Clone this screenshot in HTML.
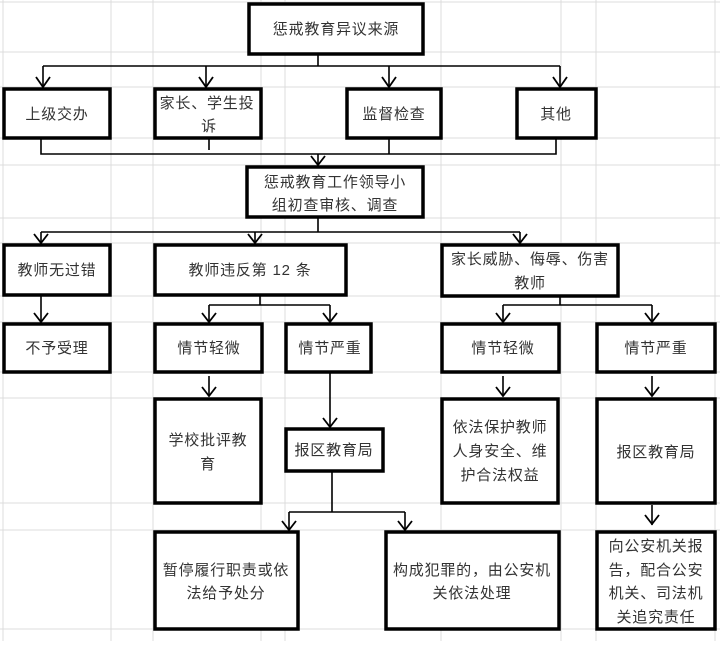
<!DOCTYPE html>
<html><head><meta charset="utf-8"><style>
body{margin:0;background:#fff}
svg text{font-family:"Liberation Sans","Noto Sans CJK SC",sans-serif;font-size:15px;fill:#333;text-anchor:middle;letter-spacing:0.8px}
</style></head><body>
<svg width="720" height="641" viewBox="0 0 720 641" xmlns="http://www.w3.org/2000/svg">
<g stroke="#dcdcdc" stroke-width="1">
<line x1="3" y1="0" x2="3" y2="641"/><line x1="111" y1="0" x2="111" y2="641"/><line x1="153" y1="0" x2="153" y2="641"/><line x1="261" y1="0" x2="261" y2="641"/><line x1="285" y1="0" x2="285" y2="641"/><line x1="441" y1="0" x2="441" y2="641"/><line x1="561" y1="0" x2="561" y2="641"/><line x1="596" y1="0" x2="596" y2="641"/><line x1="715" y1="0" x2="715" y2="641"/>
<line x1="0" y1="2" x2="720" y2="2"/><line x1="0" y1="52" x2="720" y2="52"/><line x1="0" y1="87" x2="720" y2="87"/><line x1="0" y1="138" x2="720" y2="138"/><line x1="0" y1="165" x2="720" y2="165"/><line x1="0" y1="218" x2="720" y2="218"/><line x1="0" y1="243" x2="720" y2="243"/><line x1="0" y1="296" x2="720" y2="296"/><line x1="0" y1="322" x2="720" y2="322"/><line x1="0" y1="372" x2="720" y2="372"/><line x1="0" y1="398" x2="720" y2="398"/><line x1="0" y1="503" x2="720" y2="503"/><line x1="0" y1="530" x2="720" y2="530"/><line x1="0" y1="629" x2="720" y2="629"/>
</g>
<g fill="#fff" stroke="#000" stroke-width="3.5">
<rect x="249" y="4" width="174" height="50"/>
<rect x="4" y="89" width="106" height="49"/>
<rect x="155" y="89" width="106" height="49"/>
<rect x="347" y="89" width="94" height="49"/>
<rect x="517" y="89" width="79" height="49"/>
<rect x="247" y="167" width="176" height="50"/>
<rect x="4" y="245" width="106" height="50"/>
<rect x="155" y="245" width="191" height="50"/>
<rect x="442" y="245" width="176" height="51"/>
<rect x="4" y="324" width="106" height="48"/>
<rect x="155" y="324" width="107" height="48"/>
<rect x="286" y="324" width="85" height="48"/>
<rect x="442" y="324" width="117" height="48"/>
<rect x="597" y="324" width="118" height="48"/>
<rect x="155" y="399" width="106" height="104"/>
<rect x="286" y="429" width="97" height="42"/>
<rect x="442" y="399" width="116" height="104"/>
<rect x="597" y="399" width="118" height="104"/>
<rect x="155" y="532" width="143" height="97"/>
<rect x="386" y="532" width="173" height="97"/>
<rect x="597" y="532" width="118" height="97"/>
</g>
<g stroke="#000" stroke-width="1.6" fill="none">
<path d="M318 54V66M43 66H560M43 66V88M206 66V88M389 66V88M560 66V88"/>
<path d="M41 138V154H556V138M209 138V150M389 138V154M318 154V166"/>
<path d="M318 217V232M41 232H520M41 232V244M255 232V244M520 232V244"/>
<path d="M41 295V322"/>
<path d="M260 295V305M209 305H330M209 305V323M330 305V323"/>
<path d="M560 296V305M503 305H652M503 305V323M652 305V323"/>
<path d="M209 376V396M330 372V428M503 376V396M652 376V396"/>
<path d="M332 471V512M289 512H405M289 512V531M405 512V531"/>
<path d="M652 505V525"/>
<g stroke-width="1.8">
<path d="M36 77L43 87L50 77M199 77L206 87L213 77M382 77L389 87L396 77M553 77L560 87L567 77"/>
<path d="M311 156L318 165L325 156"/>
<path d="M34 234L41 243L48 234M248 234L255 243L262 234M513 234L520 243L527 234"/>
<path d="M34 313L41 322L48 313M202 313L209 322L216 313M323 313L330 322L337 313M496 313L503 322L510 313M645 313L652 322L659 313"/>
<path d="M202 387L209 396L216 387M323 418L330 427L337 418M496 387L503 396L510 387M645 387L652 396L659 387"/>
<path d="M282 521L289 530L296 521M398 521L405 530L412 521M645 515L652 524L659 515"/>
</g>
</g>
<text x="336" y="34">惩戒教育异议来源</text>
<text x="57" y="119">上级交办</text>
<text x="207" y="108">家长、学生投</text><text x="209" y="131">诉</text>
<text x="394" y="119">监督检查</text>
<text x="556" y="119">其他</text>
<text x="335" y="187">惩戒教育工作领导小</text><text x="335" y="210">组初查审核、调查</text>
<text x="57" y="275">教师无过错</text>
<text x="250" y="275">教师违反第 12 条</text>
<text x="530" y="264">家长威胁、侮辱、伤害</text><text x="530" y="288">教师</text>
<text x="57" y="353">不予受理</text>
<text x="209" y="353">情节轻微</text>
<text x="330" y="353">情节严重</text>
<text x="503" y="353">情节轻微</text>
<text x="656" y="353">情节严重</text>
<text x="208" y="445">学校批评教</text><text x="208" y="469">育</text>
<text x="334" y="455">报区教育局</text>
<text x="500" y="432">依法保护教师</text><text x="500" y="456">人身安全、维</text><text x="500" y="480">护合法权益</text>
<text x="656" y="457">报区教育局</text>
<text x="226" y="575">暂停履行职责或依</text><text x="226" y="598">法给予处分</text>
<text x="472" y="575">构成犯罪的，由公安机</text><text x="472" y="598">关依法处理</text>
<text x="656" y="551">向公安机关报</text><text x="656" y="575">告，配合公安</text><text x="656" y="598">机关、司法机</text><text x="656" y="622">关追究责任</text>
</svg>
</body></html>
